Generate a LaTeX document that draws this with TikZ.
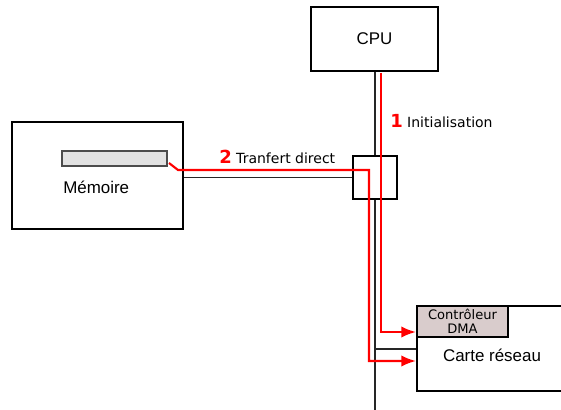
\documentclass[tikz,border=0pt]{standalone}
\usepackage{fontspec}
\setmainfont{Liberation Sans}
\newfontfamily\dejavu{DejaVu Sans}
\definecolor{DMArose}{HTML}{D9CCCC}
\definecolor{BUFgray}{HTML}{E2E2E2}
\definecolor{BUSred}{HTML}{FF0000}
\usetikzlibrary{arrows.meta, positioning, calc}

\begin{document}
\begin{tikzpicture}[x=0.75pt, y=-0.75pt,
      box/.style={draw, line width=1pt, inner sep=0pt, font=\fontsize{12.7}{15}\selectfont},
      bus/.style={line width=1pt, black!85},
      redarrow/.style={BUSred, line width=1.6pt, -{Latex[length=11pt, width=8.5pt]}},
      small/.style={font=\dejavu\fontsize{10.5}{12}\selectfont, inner sep=0pt}]
   \useasboundingbox (0,0) rectangle (561,410);
   \clip (0,0) rectangle (561,410);
   % CPU
   \node[box, minimum width=95.25pt, minimum height=48pt] (cpu) at (374.5,39) {CPU};
   % Memoire and its buffer
   \node[box, minimum width=128.25pt, minimum height=80.25pt] (mem) at (97.5,175.5) {};
   \node[draw=black!70, fill=BUFgray, line width=1pt, inner sep=0pt,
      minimum width=78.75pt, minimum height=11.25pt] (buf) at (114.5,158.5) {};
   \node[anchor=west, inner sep=0pt, font=\fontsize{12.7}{15}\selectfont] (memlabel) at (63,187) {Mémoire};
   % switch on the bus
   \node[box, minimum width=33pt, minimum height=32.25pt] (sw) at (375,177.5) {};
   % Carte reseau (cut by the right edge)
   \node[box, minimum width=112.5pt, minimum height=63.75pt] (nic) at (492,348.5) {};
   \node[inner sep=0pt, font=\fontsize{12.7}{15}\selectfont] (niclabel) at (492,355) {Carte réseau};
   % DMA controller
   \node[box, fill=DMArose, minimum width=68.25pt, minimum height=23.25pt, align=center,
      font=\dejavu\fontsize{9.8}{10.5}\selectfont] (dma) at (462.5,321.5) {Contrôleur\\DMA};
   % buses
   \coordinate (busend) at (375,410);
   \coordinate (tap) at (375,349);
   \draw[bus] (cpu.south -| sw.north) -- (sw.north);
   \draw[bus] (sw.south) -- (busend);
   \draw[bus] (mem.east |- sw.west) -- (sw.west);
   \draw[bus] (tap) -- (tap -| nic.west);
   % 1: initialisation CPU -> DMA
   \coordinate (initstart) at (381,73);
   \coordinate (initend) at (416,332);
   \draw[redarrow] (initstart) |- (initend);
   % 2: direct transfer memoire -> carte
   \coordinate (xferstart) at (169,163);
   \coordinate (xferbend) at (178,170);
   \coordinate (xferend) at (416,361);
   \draw[redarrow] (xferstart) -- (xferbend) -- (369,170) |- (xferend);
   % labels
   \node[small, anchor=west] (initlabel) at (390,121)
      {\textcolor{BUSred}{\fontsize{13.5}{15}\selectfont\bfseries 1} Initialisation};
   \node[small, anchor=west] (xferlabel) at (219,157)
      {\textcolor{BUSred}{\fontsize{13.5}{15}\selectfont\bfseries 2} Tranfert direct};
\end{tikzpicture}
\end{document}
